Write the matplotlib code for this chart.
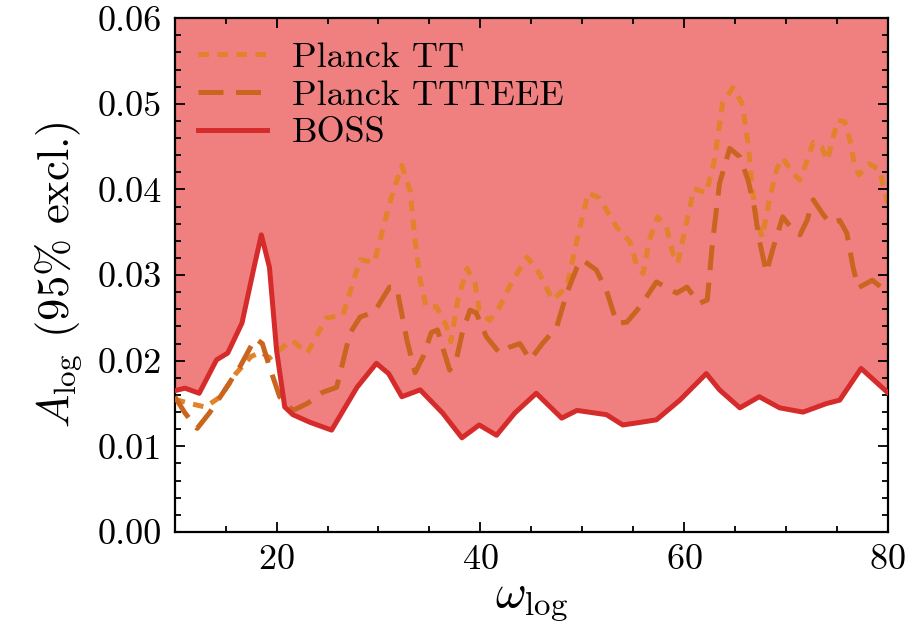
import matplotlib
matplotlib.use("Agg")
import matplotlib.pyplot as plt

plt.rcParams['font.family'] = 'serif'
plt.rcParams['font.serif'] = ['cmr10']
plt.rcParams['mathtext.fontset'] = 'cm'
plt.rcParams['axes.formatter.use_mathtext'] = True

# BOSS 95% exclusion
boss_x = [10, 11, 12.4, 14.1, 15.2, 16.6, 17.8, 18.5, 19.3, 20.0, 20.8, 21.6, 23.3, 25.4,
          27.9, 29.8, 31.0, 32.3, 34.1, 36.3, 38.2, 39.9, 41.6, 43.4, 45.5, 48.0, 49.5,
          52.4, 54.0, 55.7, 57.3, 59.6, 62.2, 63.5, 65.5, 67.4, 69.4, 71.7, 74.0, 75.3,
          77.4, 80.0]
boss_y = [0.0165, 0.0168, 0.0162, 0.0201, 0.0209, 0.0244, 0.0310, 0.0347, 0.0309, 0.0212,
          0.0146, 0.0137, 0.0128, 0.0119, 0.0169, 0.0197, 0.0185, 0.0158, 0.0166, 0.0139,
          0.0110, 0.0125, 0.0113, 0.0139, 0.0162, 0.0133, 0.0142, 0.0137, 0.0125, 0.0128,
          0.0131, 0.0154, 0.0185, 0.0166, 0.0145, 0.0158, 0.0145, 0.0140, 0.0150, 0.0154,
          0.0191, 0.0163]

# Planck TT
tt_x = [10, 11.5, 13.0, 14.5, 16.0, 17.5, 18.5, 19.3, 20.2, 21.5, 23.0, 24.9, 26.5, 28.2,
        29.6, 31.1, 32.3, 33.1, 33.6, 34.1, 34.7, 35.7, 36.7, 37.1, 37.8, 38.7, 39.5, 39.9,
        40.9, 41.9, 43.2, 44.6, 45.8, 47.1, 48.5, 49.5, 50.6, 51.7, 53.4, 54.7, 55.4, 56.0,
        56.6, 57.4, 58.3, 58.9, 59.4, 60.3, 61.0, 62.2, 63.0, 63.8, 64.8, 65.7, 66.3, 66.7,
        67.1, 67.7, 68.4, 69.1, 69.7, 70.7, 71.4, 72.1, 72.7, 73.5, 74.1, 74.6, 75.1, 75.8,
        76.3, 76.8, 77.2, 78.2, 79.2, 80.0]
tt_y = [0.0155, 0.0150, 0.0146, 0.0158, 0.0185, 0.0205, 0.0210, 0.0203, 0.0212, 0.0224,
        0.0209, 0.0250, 0.0253, 0.0318, 0.0315, 0.0384, 0.0428, 0.0399, 0.0341, 0.0294,
        0.0263, 0.0263, 0.0240, 0.0222, 0.0271, 0.0308, 0.0290, 0.0259, 0.0247, 0.0263,
        0.0294, 0.0321, 0.0302, 0.0271, 0.0286, 0.0341, 0.0396, 0.0390, 0.0356, 0.0339,
        0.0310, 0.0302, 0.0341, 0.0368, 0.0356, 0.0326, 0.0314, 0.0364, 0.0401, 0.0396,
        0.0434, 0.0501, 0.0519, 0.0501, 0.0454, 0.0403, 0.0368, 0.0344, 0.0388, 0.0423,
        0.0437, 0.0419, 0.0411, 0.0434, 0.0455, 0.0450, 0.0434, 0.0458, 0.0481, 0.0479,
        0.0458, 0.0426, 0.0417, 0.0430, 0.0423, 0.0384]

# Planck TTTEEE
te_x = [10, 11, 12.2, 13.4, 14.7, 16.4, 17.9, 18.6, 19.3, 20.3, 21.6, 23.0, 24.5, 25.9,
        27.2, 28.2, 29.6, 31.1, 31.8, 32.8, 33.6, 34.4, 35.2, 35.8, 36.3, 37.0, 37.7, 38.3,
        39.0, 39.6, 40.6, 41.9, 42.9, 43.9, 44.9, 46.1, 47.5, 48.5, 49.5, 50.0, 51.4, 52.4,
        53.4, 54.4, 55.4, 56.3, 57.3, 59.3, 60.3, 61.5, 62.3, 62.8, 63.5, 64.5, 65.5, 66.3,
        66.9, 67.4, 68.1, 68.7, 69.7, 70.7, 71.4, 72.1, 72.7, 73.6, 74.3, 75.3, 76.0, 76.6,
        77.1, 78.5, 80.0]
te_y = [0.0158, 0.0139, 0.0121, 0.0139, 0.0162, 0.0193, 0.0226, 0.0220, 0.0193, 0.0158,
        0.0142, 0.0150, 0.0163, 0.0169, 0.0232, 0.0251, 0.0257, 0.0286, 0.0285, 0.0224,
        0.0186, 0.0205, 0.0233, 0.0236, 0.0216, 0.0189, 0.0204, 0.0236, 0.0259, 0.0256,
        0.0228, 0.0209, 0.0216, 0.0220, 0.0201, 0.0220, 0.0239, 0.0279, 0.0309, 0.0318,
        0.0306, 0.0282, 0.0244, 0.0245, 0.0259, 0.0274, 0.0292, 0.0279, 0.0286, 0.0267,
        0.0271, 0.0337, 0.0407, 0.0448, 0.0438, 0.0411, 0.0380, 0.0341, 0.0303, 0.0329,
        0.0368, 0.0353, 0.0347, 0.0364, 0.0388, 0.0372, 0.0361, 0.0364, 0.0349, 0.0310,
        0.0285, 0.0294, 0.0280]

fig = plt.figure(figsize=(9.15, 6.27), dpi=100)
ax = fig.add_axes([0.191, 0.1515, 0.779, 0.8195])

ax.fill_between(boss_x, boss_y, 0.06, color='#f08080', lw=0, zorder=1)
ax.plot(tt_x, tt_y, color='#e0832a', lw=3.6, dashes=(2.1, 1.7), label='Planck TT', zorder=2)
ax.plot(te_x, te_y, color='#c9651f', lw=3.6, dashes=(5.0, 2.5), label='Planck TTTEEE', zorder=3)
ax.plot(boss_x, boss_y, color='#d62b2b', lw=3.6, label='BOSS', zorder=4)

ax.set_xlim(10, 80)
ax.set_ylim(0, 0.06)
ax.set_xticks([20, 40, 60, 80])
ax.set_xticks(range(10, 81, 5), minor=True)
ax.set_yticks([0, 0.01, 0.02, 0.03, 0.04, 0.05, 0.06])
ax.set_yticks([i * 0.002 for i in range(31)], minor=True)
ax.set_yticklabels(['0.00', '0.01', '0.02', '0.03', '0.04', '0.05', '0.06'])

ax.tick_params(which='both', direction='in', top=True, right=True, labelsize=26, width=1.3)
ax.tick_params(which='major', length=7, pad=9)
ax.tick_params(which='minor', length=4)
for s in ax.spines.values():
    s.set_linewidth(1.6)

ax.set_xlabel(r'$\omega_{\rm log}$', fontsize=34, labelpad=4)
ax.set_ylabel(r'$A_{\rm log}$ (95% excl.)', fontsize=32, labelpad=10)

ax.legend(loc='upper left', frameon=False, fontsize=26, handlelength=1.9,
          borderaxespad=0.25, labelspacing=0.15, handletextpad=0.7)

fig.savefig('out.png', dpi=100)
